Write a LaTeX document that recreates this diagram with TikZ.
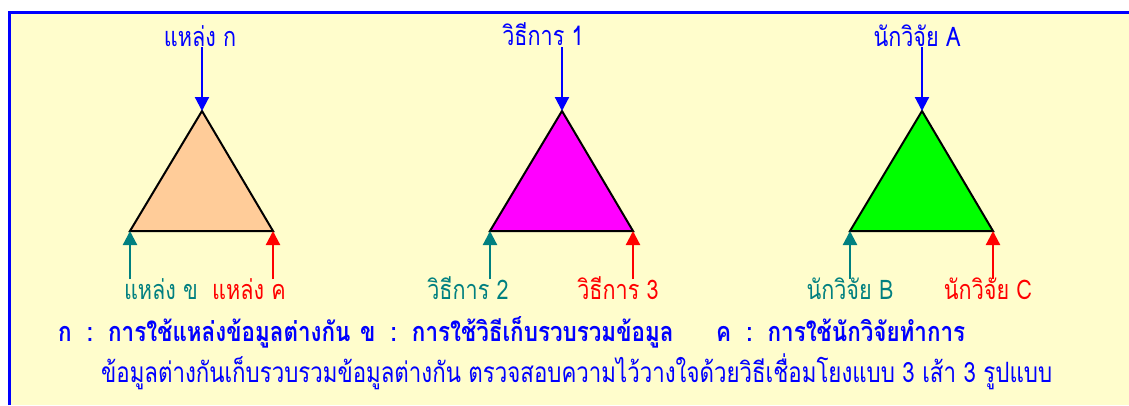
\documentclass[tikz,border=0pt]{standalone}
\usepackage{fontspec}
\setmainfont[Script=Thai]{Loma}
\newfontfamily\lblfont[Script=Thai, FakeStretch=0.8]{Loma}
\newfontfamily\legfont[Script=Thai, FakeStretch=0.83]{Loma}
\newfontfamily\notefont[Script=Thai, FakeStretch=0.795]{Loma}
\usetikzlibrary{arrows.meta}
\definecolor{bgyellow}{HTML}{FFFDCC}
\definecolor{peach}{HTML}{FFCC99}
\definecolor{mag}{HTML}{FF00FF}
\definecolor{grn}{HTML}{00FF00}
\definecolor{tealc}{HTML}{008080}
\definecolor{bluec}{HTML}{0000FF}
\definecolor{redc}{HTML}{FF0000}
\tikzset{
  lbl/.style={inner sep=0pt, anchor=base, font=\lblfont\fontsize{27}{30}\selectfont},
  tri/.style={draw=black, line width=2pt, line join=miter},
  arr/.style={line width=2.2pt, -{Triangle[width=14pt,length=14pt]}},
  legend/.style={inner sep=0pt, anchor=base west, text=bluec, font=\legfont\fontsize{27}{30}\selectfont\bfseries},
  note/.style={inner sep=0pt, anchor=base west, text=bluec, font=\notefont\fontsize{28}{30}\selectfont},
}
\begin{document}
\begin{tikzpicture}[x=1pt,y=-1pt]
\useasboundingbox (0,0) rectangle (1129,405);
\fill[white] (0,0) rectangle (1129,405);
\fill[bgyellow] (9,12) rectangle (1129,405);
\draw[bluec, line width=2.5pt] (9.5,405) -- (9.5,12.5) -- (1129,12.5);

% triangle vertices
\foreach \i/\cx in {1/202,2/562,3/922}{
  \coordinate (A\i) at (\cx,111);
  \coordinate (L\i) at (\cx-72,231);
  \coordinate (R\i) at (\cx+71,231);
  \coordinate (TA\i) at (\cx,47);
  \coordinate (LB\i) at (\cx-72,279);
  \coordinate (RB\i) at (\cx+71,279);
}
\fill[peach] (A1) -- (L1) -- (R1) -- cycle;
\draw[tri] (A1) -- (L1) -- (R1) -- cycle;
\fill[mag] (A2) -- (L2) -- (R2) -- cycle;
\draw[tri] (A2) -- (L2) -- (R2) -- cycle;
\fill[grn] (A3) -- (L3) -- (R3) -- cycle;
\draw[tri] (A3) -- (L3) -- (R3) -- cycle;

% top labels
\node[lbl, text=bluec] (T1) at (200,46) {แหล่ง ก};
\node[lbl, text=bluec] (T2) at (543,45) {วิธีการ 1};
\node[lbl, text=bluec] (T3) at (917,46) {นักวิจัย A};
\foreach \i in {1,2,3}{
  \draw[arr, bluec] (TA\i) -- (A\i);
}

% bottom labels
\node[lbl, text=tealc] (B1) at (161,299) {แหล่ง ข};
\node[lbl, text=redc] (C1) at (249,299) {แหล่ง ค};
\node[lbl, text=tealc] (B2) at (468,299) {วิธีการ 2};
\node[lbl, text=redc] (C2) at (618,299) {วิธีการ 3};
\node[lbl, text=tealc] (B3) at (850,299) {นักวิจัย B};
\node[lbl, text=redc] (C3) at (988,299) {นักวิจัย C};
\foreach \i in {1,2,3}{
  \draw[arr, tealc] (LB\i) -- (L\i);
  \draw[arr, redc] (RB\i) -- (R\i);
}

% legend
\node[legend] (G1) at (58,341) {ก\ \ :\ \ การใช้แหล่งข้อมูลต่างกัน};
\node[legend] (G2) at (360,341) {ข\ \ :\ \ การใช้วิธีเก็บรวบรวมข้อมูล};
\node[legend] (G3) at (716,341) {ค\ \ :\ \ การใช้นักวิจัยทำการ};
\node[note] (N) at (101,382) {ข้อมูลต่างกันเก็บรวบรวมข้อมูลต่างกัน ตรวจสอบความไว้วางใจด้วยวิธีเชื่อมโยงแบบ 3 เส้า 3 รูปแบบ};
\end{tikzpicture}
\end{document}
